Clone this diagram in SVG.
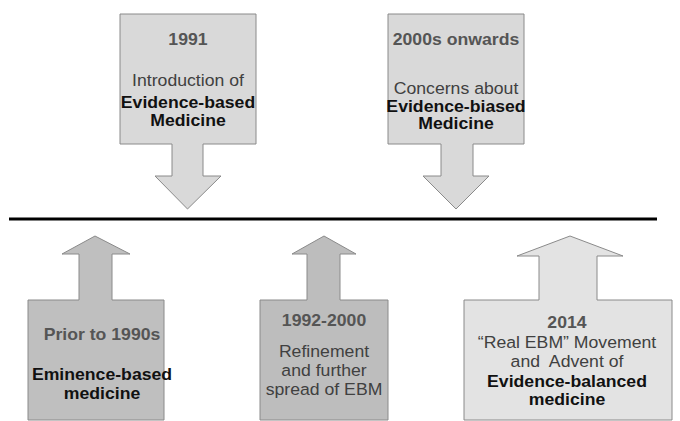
<svg xmlns="http://www.w3.org/2000/svg" width="680" height="421" viewBox="0 0 680 421">
<style>
.sh{stroke:#8a8a8a;stroke-width:1}
.t{font-family:"Liberation Sans",Arial,sans-serif;font-size:16.5px;text-anchor:middle}
.g{fill:#404040}
.gb{fill:#555555;font-weight:bold}
.b{fill:#111111;font-weight:bold}
</style>
<rect width="680" height="421" fill="#ffffff"/>
<g id="connectors">
<line x1="9" y1="219" x2="657" y2="219" stroke="#000000" stroke-width="3"/>
</g>
<g id="node-1991">
<path class="sh" fill="#d9d9d9" d="M120,14 H256 V144 H203 V176 H221 L187.5,209 L155,176 H172 V144 H120 Z"/>
<g transform="translate(188,0) scale(1.07,1)">
<text class="t gb" x="0" y="45">1991</text>
<text class="t g" x="0" y="86">Introduction of</text>
<text class="t b" x="0" y="108">Evidence-based</text>
<text class="t b" x="0" y="126">Medicine</text>
</g>
</g>
<g id="node-2000s">
<path class="sh" fill="#d9d9d9" d="M388,14 H524 V144 H473 V176 H489 L456,209 L423,176 H441 V144 H388 Z"/>
<g transform="translate(456,0) scale(1.07,1)">
<text class="t gb" x="0" y="45">2000s onwards</text>
<text class="t g" x="0" y="94">Concerns about</text>
<text class="t b" x="0" y="112">Evidence-biased</text>
<text class="t b" x="0" y="129">Medicine</text>
</g>
</g>
<g id="node-prior">
<path class="sh" fill="#bfbfbf" d="M95,236 L130,254 H112 V300 H164 V420 H28 V300 H79 V254 H62 Z"/>
<g transform="translate(102,0) scale(1.07,1)">
<text class="t gb" x="0" y="340" fill="#686868">Prior to 1990s</text>
<text class="t b" x="0" y="380">Eminence-based</text>
<text class="t b" x="0" y="399">medicine</text>
</g>
</g>
<g id="node-1992">
<path class="sh" fill="#bdbdbd" d="M324,236 L356,254 H340 V300 H388 V420 H260 V300 H307 V254 H292 Z"/>
<g transform="translate(324,0) scale(1.07,1)">
<text class="t gb" x="0" y="326">1992-2000</text>
<text class="t g" x="0" y="357">Refinement</text>
<text class="t g" x="0" y="376">and further</text>
<text class="t g" x="0" y="395">spread of EBM</text>
</g>
</g>
<g id="node-2014">
<path class="sh" fill="#e3e3e3" d="M570,236 L623,256 H597 V300 H672 V420 H464 V300 H539 V256 H517 Z"/>
<g transform="translate(567,0) scale(1.07,1)">
<text class="t gb" x="0" y="328">2014</text>
<text class="t g" x="0" y="348">“Real EBM” Movement</text>
<text class="t g" x="0" y="367" xml:space="preserve">and  Advent of</text>
<text class="t b" x="0" y="387">Evidence-balanced</text>
<text class="t b" x="0" y="405">medicine</text>
</g>
</g>
</svg>
